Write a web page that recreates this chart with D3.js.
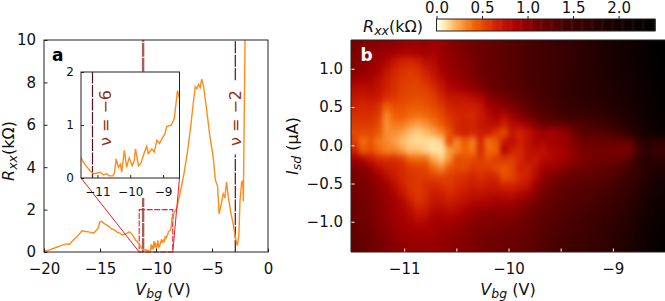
<!DOCTYPE html>
<html>
<head>
<meta charset="utf-8">
<script src="https://cdn.jsdelivr.net/npm/d3@7"></script>
<style>
  html, body { margin: 0; background: #fff; }
  svg text { font-family: "DejaVu Sans", sans-serif; }
</style>
</head>
<body>
<div id="chart"></div>
<script>
// gate sweep, panel a
const vbgSweep = [-20,-19.7,-19.5,-19,-18.5,-18,-17.7,-17.5,-17,-16.6,-16.3,-16,-15.7,-15.5,-15.2,-15,-14.85,-14.65,-14.5,-14.25,-14,-13.75,-13.5,-13.2,-13,-12.7,-12.4,-12.25,-12.1,-11.8,
  -11.5,-11.43,-11.33,-11.23,-11.12,-11.02,-10.92,-10.82,-10.72,-10.64,-10.53,-10.48,-10.43,-10.36,-10.3,-10.26,-10.18,-10.11,-10.07,-10.03,-9.94,-9.88,-9.84,-9.75,-9.68,-9.6,-9.5,-9.45,-9.41,-9.34,-9.27,-9.19,-9.11,-9.01,-8.95,-8.89,-8.75,-8.66,-8.56,-8.5,
  -8.4,-8.15,-7.8,-7.5,-7.2,-6.9,-6.7,-6.5,-6.35,-6.2,-6.05,-5.92,-5.75,-5.5,-5.2,-4.9,-4.7,-4.5,-4.37,-4.2,-4,-3.85,-3.7,-3.55,-3.3,-3.1,-2.92,-2.74,-2.6,-2.5,-2.35,-2.25,-2.2,-2.15,-2.05,-1.9];
const rxxSweep = [0.05,0.07,0.1,0.2,0.3,0.38,0.37,0.5,0.75,1.0,0.97,0.95,0.9,0.92,1.1,1.42,1.45,1.35,1.3,1.22,1.1,1.05,0.95,0.88,0.8,0.85,0.95,0.9,0.8,0.55,
  0.39,0.3,0.22,0.14,0.08,0.09,0.11,0.06,0.08,0.04,0.04,0.1,0.36,0.2,0.26,0.11,0.52,0.2,0.3,0.38,0.23,0.33,0.55,0.23,0.27,0.43,0.6,0.46,0.49,0.55,0.49,0.71,0.65,0.77,0.82,0.97,1.0,1.12,1.65,1.5,
  1.85,2.05,2.9,3.7,4.7,5.9,6.9,7.8,7.7,7.9,7.75,8.15,7.8,6.8,5.5,4.5,3.4,3.1,1.8,2.2,2.75,2.55,3.3,2.6,1.8,1.3,0.7,0.3,0.8,2.4,3.3,3.35,2.4,5,10,12];

const filling = [{ label: "ν = −6", vbg: -11.15 }, { label: "ν = −2", vbg: -2.92 }];

const xTicksA = [-20, -15, -10, -5, 0];
const yTicksA = [0, 2, 4, 6, 8, 10];
const xTicksInset = [-11, -10, -9];
const yTicksInset = [0, 1, 2];
const xTicksB = [-11, -10.5, -10, -9.5, -9];
const yTicksB = [-1, -0.5, 0, 0.5, 1];
const cbarTicks = [0, 0.5, 1, 1.5, 2];

// differential resistance map, panel b (top row first, units of 10 ohm)
const rxxMap = [
[108,106,104,102,100,98,96,94,92,96,90,94,100,104,108,112,116,120,122,126,130,134,138,142,146,150,156,160,166,172,178,184,190,196,204,210,218,226,236,245],
[106,104,100,96,92,88,84,84,86,90,86,92,98,102,106,110,114,118,122,126,130,134,138,142,146,150,154,160,166,172,178,184,190,196,202,208,216,224,234,242],
[104,100,96,92,84,72,64,62,66,76,80,90,96,100,104,108,114,118,122,126,130,134,138,142,146,150,154,160,166,172,178,184,188,194,200,206,214,222,232,240],
[100,96,92,86,74,64,58,56,58,66,74,86,94,98,102,106,112,118,122,126,130,134,138,142,146,150,156,160,166,172,178,182,188,192,198,204,212,220,228,238],
[92,88,86,78,68,60,56,54,54,60,68,78,88,94,100,104,110,116,120,124,128,132,138,142,146,150,156,162,168,172,176,180,186,190,196,202,208,216,226,236],
[80,78,80,74,66,60,54,52,52,54,60,70,82,86,92,98,104,112,118,122,126,130,136,142,146,150,158,164,168,172,176,180,184,188,194,200,206,214,224,234],
[72,70,72,70,60,56,52,50,48,50,54,62,72,72,74,80,84,100,108,112,118,124,130,136,142,148,156,164,168,172,174,178,182,186,192,198,204,212,222,232],
[66,62,64,60,42,48,48,44,44,46,50,56,64,68,66,66,72,88,96,100,108,116,124,130,136,142,150,158,162,164,168,172,176,182,188,194,202,210,220,230],
[60,60,60,56,32,42,44,40,38,40,44,50,58,62,64,62,70,80,88,82,92,104,114,122,130,136,144,150,154,156,160,164,168,176,182,190,198,208,218,228],
[56,56,56,50,30,36,36,30,26,30,36,44,54,62,66,64,70,76,78,66,80,84,92,104,114,116,122,124,130,134,140,146,152,162,172,182,192,204,216,226],
[50,50,50,46,30,30,26,18,14,18,24,32,46,62,66,62,68,68,58,50,72,64,74,84,94,86,92,100,112,124,130,132,134,140,150,168,184,198,210,222],
[55,38,46,36,32,26,18,14,12,12,10,14,50,32,44,34,62,38,44,70,78,66,76,86,84,90,92,96,106,114,112,116,116,118,118,124,160,176,170,172],
[66,44,50,40,34,34,26,18,18,14,10,10,26,34,42,36,62,40,42,85,66,62,74,78,76,84,86,92,100,108,110,112,110,110,108,108,140,172,160,160],
[90,84,70,62,60,60,56,42,40,40,24,16,30,50,48,50,56,48,56,56,54,62,74,70,80,82,88,94,100,106,110,112,112,114,116,130,158,172,170,172],
[104,100,92,78,70,66,62,56,54,52,40,32,46,50,50,56,54,56,50,46,52,66,64,76,88,94,98,104,110,112,116,120,122,128,136,148,160,174,180,184],
[108,106,100,92,80,70,62,58,56,56,54,52,54,58,60,64,60,64,62,48,52,62,66,80,98,106,110,116,120,122,124,126,130,136,144,154,166,178,188,196],
[110,108,104,98,90,78,66,58,56,60,62,60,56,60,64,68,66,70,70,64,64,68,74,92,104,112,118,122,126,128,130,134,138,144,152,160,172,182,194,204],
[112,108,106,100,94,86,76,62,56,60,70,68,62,66,70,76,76,78,80,80,78,84,92,102,110,116,122,126,130,132,136,140,144,150,158,166,178,188,200,210],
[114,110,106,102,96,90,84,72,60,64,74,74,70,74,78,84,86,86,92,90,92,98,104,110,116,122,126,130,134,136,140,146,150,156,164,172,182,194,206,214],
[116,112,108,104,98,92,86,80,70,72,82,84,80,84,90,94,98,100,100,100,102,106,110,116,122,126,130,134,138,140,146,150,156,162,170,176,188,198,210,218],
[118,114,110,104,100,94,90,86,80,82,88,88,88,92,96,100,104,104,106,106,108,110,116,120,126,130,134,138,142,146,150,156,160,166,172,180,190,202,212,222],
[120,116,112,106,102,96,92,90,88,88,90,94,96,98,100,104,106,108,110,110,112,114,118,124,128,132,136,140,146,150,154,158,164,170,176,184,194,204,216,226],
[122,118,112,108,104,100,96,94,92,92,94,96,98,100,102,106,108,110,112,114,114,118,122,126,130,136,140,144,148,152,156,162,166,172,178,186,196,206,218,228],
[124,120,114,110,106,102,100,98,96,96,96,98,100,102,104,106,110,112,114,116,118,120,124,128,132,138,142,146,150,154,158,164,168,174,180,188,198,208,220,230]
];

const W = 665, H = 301;
const svg = d3.select("#chart").append("svg").attr("width", W).attr("height", H).attr("viewBox", [0, 0, W, H]);
const defs = svg.append("defs");

const ORANGE = "#ff8c1a", RED = "#f01c2c", BROWN = "#8f3418", DARKRED = "#650a18";
const FONT = 15, LABEL = 16;

const color = d3.scaleLinear()
    .domain([0, 0.08, 0.2, 0.42, 0.65, 0.88, 1.12, 1.4, 1.95, 2.4])
    .range(["#fffff8", "#ffedb5", "#ffb45e", "#f06000", "#d02000", "#a80000", "#700000", "#480000", "#180000", "#000000"])
    .clamp(true);

// matplotlib style: inward ticks, frame on all sides
function frame(g, b) {
    g.append("rect").attr("x", b.left).attr("y", b.top).attr("width", b.right - b.left).attr("height", b.bottom - b.top)
        .attr("fill", "none").attr("stroke", "#222").attr("stroke-width", 1);
}

function styleAxis(sel, size, tickColor) {
    sel.select(".domain").remove();
    sel.selectAll(".tick line").attr("stroke", tickColor || "#222").attr("stroke-width", 1);
    sel.selectAll(".tick text").attr("fill", "#111").style("font-size", size + "px").style("font-family", '"DejaVu Sans", sans-serif');
}

function subLabel(sel, main, sub, rest) {
    sel.append("tspan").attr("font-style", "italic").text(main);
    sel.append("tspan").attr("font-style", "italic").attr("dy", "0.22em").attr("font-size", "0.78em").text(sub);
    sel.append("tspan").attr("dy", "-0.17em").text(rest);
}

// --- panel a ---
const boxA = { left: 44, right: 268, top: 40, bottom: 252 };
const xA = d3.scaleLinear().domain([-20, 0]).range([boxA.left, boxA.right]);
const yA = d3.scaleLinear().domain([0, 10]).range([boxA.bottom, boxA.top]);
const panelA = svg.append("g");

defs.append("clipPath").attr("id", "clip-a").append("rect")
    .attr("x", boxA.left).attr("y", boxA.top).attr("width", boxA.right - boxA.left).attr("height", boxA.bottom - boxA.top);

const sweep = vbgSweep.map((v, i) => [v, rxxSweep[i]]);

// filling factor markers, broken where the inset and the label sit
panelA.selectAll(".nu6").data([[0, 2.55], [8.5, 10]]).join("line").attr("class", "nu6")
    .attr("x1", xA(filling[0].vbg)).attr("x2", xA(filling[0].vbg))
    .attr("y1", d => yA(d[0])).attr("y2", d => yA(d[1]))
    .attr("stroke", "#a85c5c").attr("stroke-width", 2.4).attr("stroke-dasharray", "14,1");
panelA.selectAll(".nu2").data([[0, 4.6], [8.1, 10]]).join("line").attr("class", "nu2")
    .attr("x1", xA(filling[1].vbg)).attr("x2", xA(filling[1].vbg))
    .attr("y1", d => yA(d[0])).attr("y2", d => yA(d[1]))
    .attr("stroke", DARKRED).attr("stroke-width", 1.2).attr("stroke-dasharray", "12,1.5");
panelA.append("text").attr("transform", `translate(${xA(filling[1].vbg) + 5.5},118) rotate(-90)`)
    .attr("text-anchor", "middle").attr("font-size", LABEL).attr("fill", BROWN).text(filling[1].label);

// zoom window
panelA.append("rect").attr("x", xA(-11.5)).attr("y", yA(2)).attr("width", xA(-8.5) - xA(-11.5)).attr("height", yA(0) - yA(2))
    .attr("fill", "none").attr("stroke", RED).attr("stroke-width", 1.1).attr("stroke-dasharray", "6,1.5");

panelA.append("path").datum(sweep).attr("clip-path", "url(#clip-a)")
    .attr("fill", "none").attr("stroke", ORANGE).attr("stroke-width", 1.4)
    .attr("d", d3.line().x(d => xA(d[0])).y(d => yA(d[1])));

const axA = panelA.append("g").attr("transform", `translate(0,${boxA.bottom})`)
    .call(d3.axisBottom(xA).tickValues(xTicksA).tickSize(-3.5).tickPadding(11));
styleAxis(axA, FONT);
const ayA = panelA.append("g").attr("transform", `translate(${boxA.left},0)`)
    .call(d3.axisLeft(yA).tickValues(yTicksA).tickFormat(d3.format("d")).tickSize(-3.5).tickPadding(8));
styleAxis(ayA, FONT);
frame(panelA, boxA);

panelA.append("text").attr("x", 52).attr("y", 61).attr("font-size", 17).attr("font-weight", "bold").attr("fill", "#000").text("a");
panelA.append("text").attr("x", 163).attr("y", 295).attr("text-anchor", "middle").attr("font-size", LABEL).attr("fill", "#111")
    .call(subLabel, "V", "bg", " (V)");
panelA.append("text").attr("transform", "translate(14,151) rotate(-90)").attr("text-anchor", "middle").attr("font-size", LABEL).attr("fill", "#111")
    .call(subLabel, "R", "xx", "(kΩ)");

// --- inset ---
const boxI = { left: 81, right: 179.5, top: 72, bottom: 178 };
const xI = d3.scaleLinear().domain([-11.5, -8.5]).range([boxI.left, boxI.right]);
const yI = d3.scaleLinear().domain([0, 2]).range([boxI.bottom, boxI.top]);
const inset = svg.append("g");

// connectors from inset corners to the zoom window
inset.selectAll(".connector").data([[boxI.left, -11.5], [boxI.right, -8.5]]).join("line").attr("class", "connector")
    .attr("x1", d => d[0]).attr("y1", boxI.bottom).attr("x2", d => xA(d[1])).attr("y2", boxA.bottom)
    .attr("stroke", RED).attr("stroke-width", 1);

inset.append("rect").attr("x", boxI.left).attr("y", boxI.top).attr("width", boxI.right - boxI.left).attr("height", boxI.bottom - boxI.top).attr("fill", "#fff");

defs.append("clipPath").attr("id", "clip-i").append("rect")
    .attr("x", boxI.left).attr("y", boxI.top).attr("width", boxI.right - boxI.left).attr("height", boxI.bottom - boxI.top);

inset.append("line").attr("x1", xI(filling[0].vbg)).attr("x2", xI(filling[0].vbg)).attr("y1", yI(0)).attr("y2", yI(2))
    .attr("stroke", DARKRED).attr("stroke-width", 1.2).attr("stroke-dasharray", "12,1.5");
inset.append("path").datum(sweep).attr("clip-path", "url(#clip-i)")
    .attr("fill", "none").attr("stroke", ORANGE).attr("stroke-width", 1.4)
    .attr("d", d3.line().x(d => xI(d[0])).y(d => yI(d[1])));
inset.append("text").attr("transform", `translate(${xI(filling[0].vbg) + 19},118) rotate(-90)`)
    .attr("text-anchor", "middle").attr("font-size", LABEL).attr("fill", BROWN).text(filling[0].label);

const axI = inset.append("g").attr("transform", `translate(0,${boxI.bottom})`)
    .call(d3.axisBottom(xI).tickValues(xTicksInset).tickFormat(d3.format("d")).tickSize(-3).tickPadding(9));
styleAxis(axI, 12);
const ayI = inset.append("g").attr("transform", `translate(${boxI.left},0)`)
    .call(d3.axisLeft(yI).tickValues(yTicksInset).tickFormat(d3.format("d")).tickSize(-3).tickPadding(7));
styleAxis(ayI, 12);
frame(inset, boxI);

// --- panel b ---
const boxB = { left: 351, right: 665, top: 40, bottom: 252 };
const xB = d3.scaleLinear().domain([-11.51, -8.5]).range([boxB.left, boxB.right]);
const yB = d3.scaleLinear().domain([-1.395, 1.376]).range([boxB.bottom, boxB.top]);
const panelB = svg.append("g");

const colBand = d3.scaleBand().domain(d3.range(rxxMap[0].length)).range([boxB.left, boxB.right]);
const rowBand = d3.scaleBand().domain(d3.range(rxxMap.length)).range([boxB.top, boxB.bottom]);

defs.append("clipPath").attr("id", "clip-b").append("rect")
    .attr("x", boxB.left).attr("y", boxB.top).attr("width", boxB.right - boxB.left).attr("height", boxB.bottom - boxB.top);

// soften the cells like imshow interpolation, alpha pushed back to opaque so the edges do not fade
const smooth = defs.append("filter").attr("id", "smooth")
    .attr("filterUnits", "userSpaceOnUse").attr("x", boxB.left - 20).attr("y", boxB.top - 20)
    .attr("width", boxB.right - boxB.left + 40).attr("height", boxB.bottom - boxB.top + 40);
smooth.append("feGaussianBlur").attr("color-interpolation-filters", "sRGB").attr("stdDeviation", "2.4 3");
smooth.append("feComponentTransfer").attr("color-interpolation-filters", "sRGB")
    .append("feFuncA").attr("type", "linear").attr("slope", 1000);

const cells = panelB.append("g").attr("clip-path", "url(#clip-b)").append("g").attr("filter", "url(#smooth)");
cells.selectAll("g").data(rxxMap).join("g").attr("transform", (d, i) => `translate(0,${rowBand(i)})`)
    .selectAll("rect").data(d => d).join("rect")
    .attr("x", (d, i) => colBand(i)).attr("width", colBand.bandwidth() + 0.5).attr("height", rowBand.bandwidth() + 0.5)
    .attr("fill", d => color(d / 100));

const axB = panelB.append("g").attr("transform", `translate(0,${boxB.bottom})`)
    .call(d3.axisBottom(xB).tickValues(xTicksB).tickSize(-3.5).tickPadding(11)
        .tickFormat(d => Number.isInteger(d) ? d3.format("d")(d) : ""));
styleAxis(axB, FONT, "#fff");
const ayB = panelB.append("g").attr("transform", `translate(${boxB.left},0)`)
    .call(d3.axisLeft(yB).tickValues(yTicksB).tickFormat(d3.format(".1f")).tickSize(-3.5).tickPadding(8));
styleAxis(ayB, FONT, "#fff");

panelB.append("path").attr("d", `M${boxB.right},${boxB.top}H${boxB.left}V${boxB.bottom}H${boxB.right}`)
    .attr("fill", "none").attr("stroke", "#222").attr("stroke-width", 1);

panelB.append("text").attr("x", 360.5).attr("y", 61).attr("font-size", 17).attr("font-weight", "bold").attr("fill", "#fff").text("b");
panelB.append("text").attr("x", 508).attr("y", 295).attr("text-anchor", "middle").attr("font-size", LABEL).attr("fill", "#111")
    .call(subLabel, "V", "bg", " (V)");
panelB.append("text").attr("transform", "translate(298,146) rotate(-90)").attr("text-anchor", "middle").attr("font-size", LABEL).attr("fill", "#111")
    .call(subLabel, "I", "sd", " (μA)");

// --- colour bar ---
const boxC = { left: 436.5, right: 655, top: 19, bottom: 31 };
const xC = d3.scaleLinear().domain([0, 2.4]).range([boxC.left, boxC.right]);
const cbar = svg.append("g");
const cbarLevels = d3.range(0, 2.4, 0.01);
cbar.selectAll("rect").data(cbarLevels).join("rect")
    .attr("x", d => xC(d)).attr("y", boxC.top).attr("width", 1.5).attr("height", boxC.bottom - boxC.top)
    .attr("fill", d => color(d));
cbar.append("rect").attr("x", boxC.left).attr("y", boxC.top).attr("width", boxC.right - boxC.left).attr("height", boxC.bottom - boxC.top)
    .attr("fill", "none").attr("stroke", "#222").attr("stroke-width", 1);
const axC = cbar.append("g").attr("transform", `translate(0,${boxC.top})`)
    .call(d3.axisTop(xC).tickValues(cbarTicks).tickFormat(d3.format(".1f")).tickSize(3).tickPadding(3));
styleAxis(axC, FONT);
cbar.append("text").attr("x", 393).attr("y", 32).attr("text-anchor", "middle").attr("font-size", LABEL).attr("fill", "#111")
    .call(subLabel, "R", "xx", "(kΩ)");
</script>
</body>
</html>
